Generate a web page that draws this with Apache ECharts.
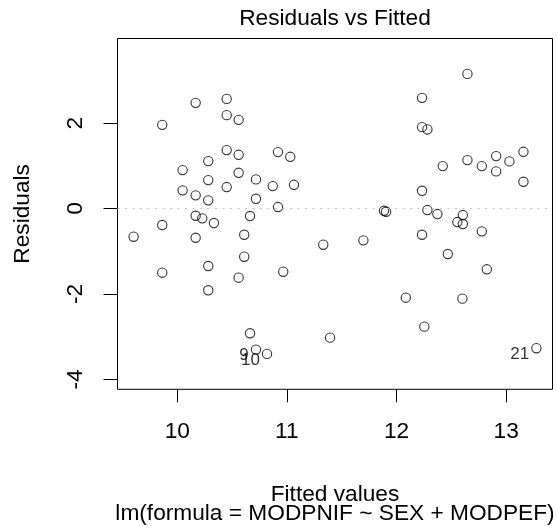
<!DOCTYPE html>
<html>
<head>
<meta charset="utf-8">
<title>Residuals vs Fitted</title>
<script src="https://cdn.jsdelivr.net/npm/echarts@6/dist/echarts.min.js"></script>
<style>
  html, body { margin: 0; padding: 0; background: #fff; }
  #chart { width: 557px; height: 527px; }
</style>
</head>
<body>
<div id="chart"></div>
<script>
// Fitted values and residuals of lm(MODPNIF ~ SEX + MODPEF), in observation order
const fitted = [
  9.863, 10.168, 10.451, 10.451, 10.560, 10.451, 10.560, 10.919, 10.718, 10.819,
  11.031, 10.283, 10.049, 10.560, 10.283, 10.718, 10.049, 10.451, 10.871, 11.065,
  13.276, 10.168, 10.283, 10.718, 10.919, 10.168, 10.228, 10.335, 10.664, 9.863,
  9.602, 10.168, 10.611, 10.611, 10.283, 9.863, 10.560, 10.967, 10.283, 10.664,
  12.647, 12.233, 12.233, 12.282, 12.422, 12.647, 12.778, 12.909, 12.909, 13.030,
  13.158, 13.158, 12.233, 11.886, 11.905, 12.282, 12.373, 12.605, 12.555, 12.605,
  12.778, 12.233, 11.332, 11.698, 12.468, 12.824, 12.085, 12.601, 12.254, 11.394
];
const residuals = [
  1.959, 2.474, 2.567, 2.186, 2.076, 1.368, 1.258, 1.321, -3.301, -3.402,
  1.211, 1.111, 0.900, 0.837, 0.666, 0.683, 0.426, 0.503, 0.526, 0.556,
  -3.269, 0.309, 0.192, 0.229, 0.035, -0.168, -0.229, -0.339, -0.175, -0.386,
  -0.659, -0.683, -0.613, -1.127, -1.344, -1.501, -1.618, -1.478, -1.913, -2.918,
  3.152, 2.591, 1.906, 1.852, 0.994, 1.134, 0.994, 1.228, 0.870, 1.104,
  1.328, 0.627, 0.416, -0.051, -0.075, -0.035, -0.129, -0.152, -0.316, -0.362,
  -0.533, -0.613, -0.846, -0.744, -1.064, -1.422, -2.086, -2.109, -2.764, -3.021
];
// Observations with the largest absolute residuals get their number printed
const flaggedObs = [9, 10, 21];

const xTicks = [10, 11, 12, 13];
const yTicks = [-4, -2, 0, 2];

const mainTitle = 'Residuals vs Fitted';
const subCaption = 'lm(formula = MODPNIF ~ SEX + MODPEF)';
const xName = 'Fitted values';
const yName = 'Residuals';

// Axis limits widened the same way R's extendrange() does
function extendRange(lo, hi, f) {
  const d = (hi - lo) * f;
  return [lo - d, hi + d];
}
const xLim = extendRange(Math.min(...fitted), Math.max(...fitted), 0.04);
const yBase = extendRange(Math.min(...residuals), Math.max(...residuals), 0.08);
const yLim = extendRange(yBase[0], yBase[1], 0.04);

const FONT = "'Liberation Sans', Arial, Helvetica, sans-serif";
const FS = 22.7;

const points = fitted.map((f, i) => {
  const obs = i + 1;
  const item = { value: [f, residuals[i]] };
  if (flaggedObs.includes(obs)) {
    item.label = {
      show: true,
      formatter: String(obs),
      position: 'left',
      distance: 2,
      offset: [0, 6],
      color: '#000',
      fontSize: 17,
      fontFamily: FONT
    };
  }
  return item;
});

const chart = echarts.init(document.getElementById('chart'), null, { renderer: 'canvas' });
chart.setOption({
  animation: false,
  backgroundColor: '#fff',
  title: [
    {
      text: mainTitle,
      left: 335,
      top: 7,
      textAlign: 'center',
      padding: 0,
      textStyle: { color: '#000', fontWeight: 'normal', fontSize: FS, fontFamily: FONT }
    },
    {
      text: subCaption,
      left: 335,
      top: 502,
      textAlign: 'center',
      padding: 0,
      textStyle: { color: '#000', fontWeight: 'normal', fontSize: FS, fontFamily: FONT }
    }
  ],
  grid: {
    left: 117.5,
    right: 4.5,
    top: 38.5,
    bottom: 137.7,
    show: true,
    borderColor: '#000',
    borderWidth: 1,
    backgroundColor: 'transparent'
  },
  xAxis: {
    type: 'value',
    min: xLim[0],
    max: xLim[1],
    name: xName,
    nameLocation: 'middle',
    nameGap: 93.5,
    nameTextStyle: { color: '#000', fontSize: FS, fontFamily: FONT },
    axisLine: { show: false, onZero: false },
    splitLine: { show: false },
    axisTick: {
      show: true,
      inside: false,
      length: 13,
      customValues: xTicks,
      lineStyle: { color: '#000', width: 1 }
    },
    axisLabel: {
      show: true,
      customValues: xTicks,
      margin: 31,
      color: '#000',
      fontSize: FS,
      fontFamily: FONT
    }
  },
  yAxis: {
    type: 'value',
    min: yLim[0],
    max: yLim[1],
    name: yName,
    nameLocation: 'middle',
    nameRotate: 90,
    nameGap: 83,
    nameTextStyle: { color: '#000', fontSize: FS, fontFamily: FONT },
    axisLine: { show: false, onZero: false },
    splitLine: { show: false },
    axisTick: {
      show: true,
      inside: false,
      length: 14,
      customValues: yTicks,
      lineStyle: { color: '#000', width: 1 }
    },
    axisLabel: {
      show: true,
      customValues: yTicks,
      rotate: 90,
      margin: 30.6,
      color: '#000',
      fontSize: FS,
      fontFamily: FONT
    }
  },
  series: [
    {
      type: 'scatter',
      data: points,
      symbol: 'circle',
      symbolSize: 9.3,
      silent: true,
      itemStyle: { color: 'rgba(0,0,0,0)', borderColor: '#000', borderWidth: 1.1 },
      markLine: {
        silent: true,
        symbol: 'none',
        label: { show: false },
        lineStyle: { color: '#c4c4c4', type: [2, 5.5], width: 1 },
        data: [{ yAxis: 0 }]
      }
    }
  ]
});
</script>
</body>
</html>
